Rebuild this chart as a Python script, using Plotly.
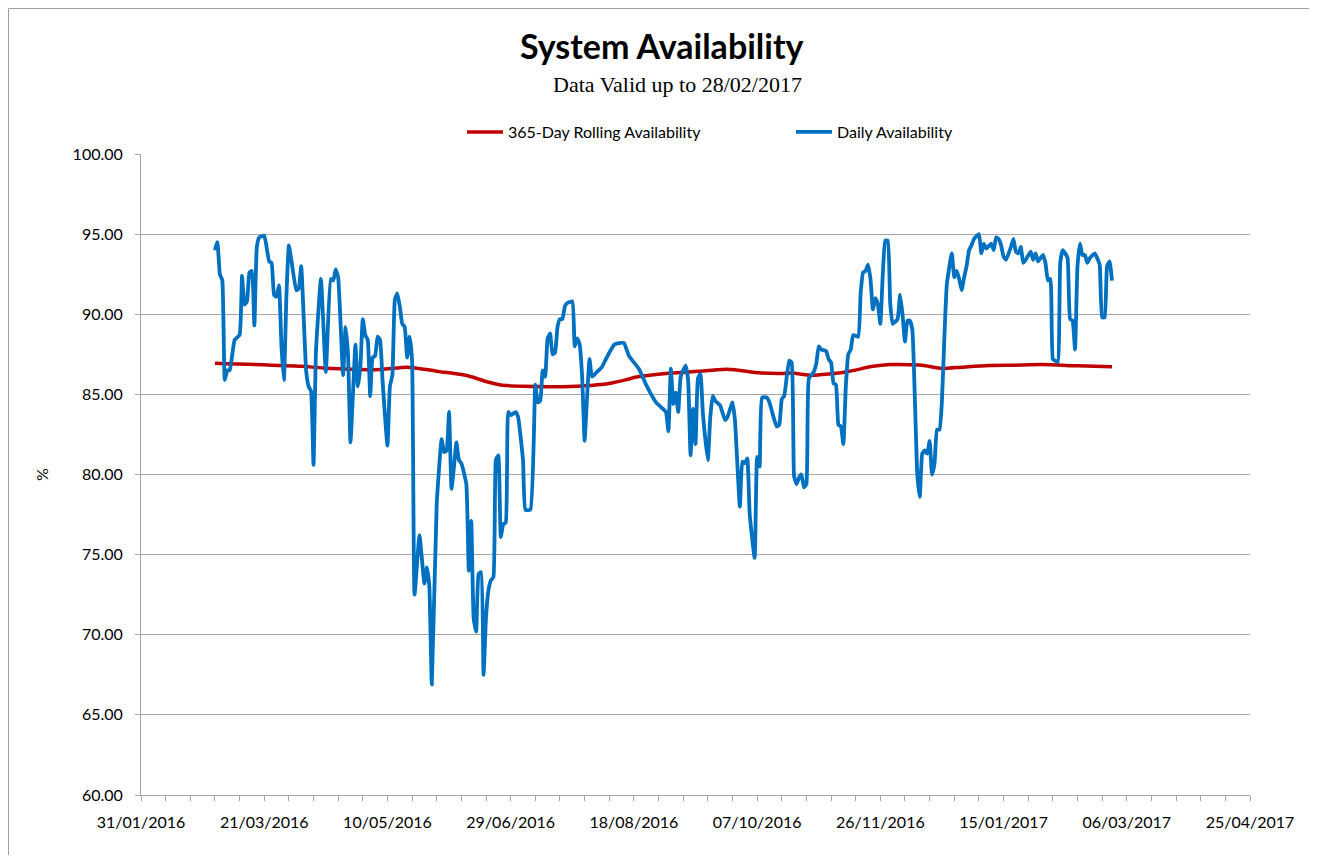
import pandas as pd
import plotly.graph_objects as go

START = "2016-03-01"

# Daily availability: day offset from START and value (%)
daily_day = [0, 1, 2, 3, 4, 5, 6, 8, 10, 11, 12, 13, 14, 15, 16, 17, 18, 20, 22, 23,
             24, 25, 26, 27, 28, 29, 30, 31, 33, 34, 35, 37, 38, 39, 40, 41, 43, 45, 47, 48,
             49, 50, 52, 53, 54, 55, 56, 57, 58, 59, 60, 61, 62, 63, 64, 65, 66, 67, 68, 70,
             71, 72, 73, 74, 75, 76, 77, 78, 79, 80, 81, 83, 85, 86, 87, 88, 90, 92, 93, 94,
             95, 96, 97, 98, 99, 100, 102, 103, 104, 105, 106, 107, 108, 109, 110, 111, 112, 113, 114, 115,
             116, 117, 118, 119, 120, 122, 123, 125, 126, 128, 130, 131, 132, 133, 134, 135, 136, 137, 138, 139,
             140, 141, 142, 143, 145, 146, 147, 148, 149, 150, 151, 152, 153, 155, 157, 158, 160, 162, 164, 166,
             168, 172, 175, 177, 179, 181, 183, 184, 185, 186, 187, 188, 189, 191, 192, 193, 194, 195, 196, 197,
             198, 200, 201, 202, 203, 205, 207, 208, 210, 211, 213, 214, 215, 216, 217, 219, 220, 221, 222, 224,
             225, 227, 228, 229, 230, 231, 233, 234, 235, 236, 237, 238, 239, 240, 241, 243, 244, 245, 246, 248,
             249, 250, 251, 252, 253, 254, 255, 256, 257, 258, 259, 261, 262, 263, 264, 265, 266, 267, 268, 269,
             270, 271, 272, 273, 274, 275, 277, 278, 279, 280, 281, 282, 283, 284, 285, 286, 287, 288, 289, 290,
             291, 292, 293, 294, 295, 296, 297, 299, 300, 301, 302, 303, 304, 305, 306, 307, 308, 310, 311, 312,
             313, 315, 316, 317, 318, 319, 320, 321, 323, 324, 325, 326, 327, 328, 329, 331, 332, 333, 334, 336,
             337, 338, 339, 340, 341, 342, 343, 344, 345, 346, 347, 348, 349, 350, 351, 352, 353, 354, 355, 357,
             358, 359, 360, 361, 362, 363, 364]
daily_value = [94.0, 94.5, 92.5, 92.1, 85.9, 86.5, 86.5, 88.4, 88.7, 92.4, 90.6, 90.8, 92.6, 92.7, 89.3, 94.2, 94.8, 94.9, 93.3, 93.2,
               91.2, 91.1, 91.8, 88.0, 85.9, 91.1, 94.3, 93.4, 91.5, 91.6, 93.0, 86.5, 85.5, 85.2, 80.6, 87.7, 92.2, 86.4, 92.2, 92.1,
               92.8, 92.3, 86.2, 89.2, 87.5, 82.0, 85.0, 88.1, 85.5, 86.7, 89.7, 88.7, 88.4, 84.9, 87.3, 87.4, 88.6, 88.4, 85.9, 81.8,
               85.5, 86.2, 90.9, 91.3, 90.5, 89.4, 89.2, 87.3, 88.6, 87.1, 72.5, 76.2, 73.2, 74.2, 73.0, 66.9, 78.2, 82.2, 81.4, 81.5,
               83.9, 79.1, 80.5, 82.0, 80.9, 80.7, 79.4, 74.0, 77.1, 71.0, 70.2, 73.8, 73.9, 67.5, 71.1, 72.8, 73.4, 73.6, 80.9, 81.2,
               76.1, 76.9, 77.0, 83.9, 83.7, 83.9, 83.6, 80.9, 77.8, 77.8, 85.6, 84.5, 84.6, 86.5, 86.1, 88.5, 88.8, 87.5, 87.6, 89.2,
               89.7, 89.7, 90.5, 90.7, 90.8, 88.0, 88.5, 88.1, 86.1, 82.1, 84.8, 87.2, 86.1, 86.4, 86.7, 87.0, 87.6, 88.1, 88.2, 88.2,
               87.4, 86.6, 85.6, 85.0, 84.5, 84.2, 83.9, 82.7, 86.6, 84.4, 85.1, 83.9, 86.1, 86.8, 85.9, 81.2, 84.1, 81.9, 86.0, 86.3,
               83.8, 80.9, 83.6, 84.9, 84.6, 84.3, 83.4, 83.6, 84.5, 83.4, 78.0, 80.8, 80.7, 81.0, 77.5, 74.8, 81.1, 80.5, 84.8, 84.8,
               84.5, 83.4, 83.0, 83.1, 84.7, 84.9, 87.1, 87.0, 79.9, 79.4, 79.8, 80.0, 79.2, 79.4, 86.0, 86.4, 86.9, 88.0, 87.8, 87.7,
               87.2, 87.0, 85.7, 85.6, 83.1, 83.0, 81.9, 85.5, 87.5, 87.8, 88.7, 88.6, 91.3, 92.6, 92.7, 93.1, 92.2, 90.3, 91.0, 90.6,
               89.4, 92.5, 94.6, 94.6, 90.7, 89.4, 89.7, 91.2, 90.0, 88.3, 89.6, 89.6, 89.0, 84.8, 80.0, 78.6, 81.3, 81.5, 81.3, 82.1,
               80.0, 80.7, 82.8, 82.8, 84.6, 88.6, 91.9, 93.8, 92.3, 92.7, 92.2, 91.5, 92.3, 93.0, 94.0, 94.3, 94.7, 95.0, 93.8, 94.4,
               94.1, 94.4, 94.0, 94.8, 94.7, 94.3, 93.6, 93.4, 94.2, 94.7, 93.9, 93.8, 94.2, 93.2, 93.4, 93.9, 93.4, 93.8, 93.3, 93.7,
               93.2, 92.1, 92.2, 87.2, 87.1, 87.0, 93.2, 94.0, 93.8, 93.5, 89.7, 89.6, 87.8, 93.0, 94.4, 93.7, 93.7, 93.2, 93.5, 93.8,
               93.5, 93.1, 89.8, 89.8, 93.0, 93.3, 92.1]

# 365-day rolling availability
rolling_day = [0, 35, 44, 67, 78, 88, 91, 95, 103, 110, 116, 125, 138, 149, 160, 167, 171, 183, 196,
               206, 211, 219, 230, 234, 242, 256, 267, 274, 278, 287, 295, 303, 314, 324, 336, 350, 364]
rolling_value = [86.95, 86.75, 86.65, 86.55, 86.7, 86.5, 86.42, 86.35, 86.15, 85.8, 85.58, 85.5, 85.47, 85.52,
                 85.68, 85.92, 86.08, 86.3, 86.44, 86.56, 86.54, 86.36, 86.3, 86.33, 86.2, 86.4, 86.75, 86.86,
                 86.86, 86.82, 86.62, 86.7, 86.8, 86.82, 86.86, 86.78, 86.72]

y_ticks = [60, 65, 70, 75, 80, 85, 90, 95, 100]

start = pd.Timestamp(START)
daily_dates = start + pd.to_timedelta(daily_day, unit="D")
rolling_dates = start + pd.to_timedelta(rolling_day, unit="D")

FONT = "Lato"
GRAY = "#A6A6A6"

fig = go.Figure()
fig.add_trace(go.Scatter(
    x=rolling_dates, y=rolling_value, mode="lines",
    name="365-Day Rolling Availability",
    line=dict(color="#C00000", width=3.5, shape="spline", smoothing=0.6),
))
fig.add_trace(go.Scatter(
    x=daily_dates, y=daily_value, mode="lines",
    name="Daily Availability",
    line=dict(color="#0070C0", width=3.8, shape="spline", smoothing=0.4),
))

# The page body has an 8px margin, so the figure starts at (8, 8) in the window.
OFF = 8
PL, PR, PT, PB = 141, 1250, 154, 795  # plot area in window pixels
W, H = 1317 - 2 * OFF, 863 - 2 * OFF
L, T = PL - OFF, PT - OFF
R, B = W + OFF - PR, H + OFF - PB
pw, ph = PR - PL, PB - PT


def px(x):
    return (x - PL) / pw


def py(y):
    return (PB - y) / ph


fig.update_layout(
    width=W, height=H, autosize=False,
    margin=dict(l=L, r=R, t=T, b=B),
    paper_bgcolor="white", plot_bgcolor="white",
    font=dict(family=FONT, size=16, color="#262626"),
    showlegend=True,
    legend=dict(orientation="h", x=px(462), xanchor="left", y=py(132), yanchor="middle",
                font=dict(family=FONT, size=16, color="#000000"),
                entrywidth=278, entrywidthmode="pixels", itemwidth=36,
                bgcolor="rgba(0,0,0,0)", traceorder="normal"),
    xaxis=dict(
        type="date",
        range=["2016-01-31", "2017-04-25"],
        tickmode="linear", tick0="2016-01-31", dtick=50 * 86400000,
        tickformat="%d/%m/%Y",
        ticks="outside", ticklen=5, tickcolor=GRAY,
        minor=dict(dtick=10 * 86400000, tick0="2016-01-31", ticks="outside", ticklen=5,
                   tickcolor=GRAY, showgrid=False),
        showline=True, linecolor=GRAY, linewidth=1,
        showgrid=False, zeroline=False,
        tickfont=dict(family=FONT, size=16, color="#000000"),
        ticklabelstandoff=8,
    ),
    yaxis=dict(
        range=[60, 100],
        tickmode="array", tickvals=y_ticks, ticktext=[f"{v:.2f}" for v in y_ticks],
        ticks="outside", ticklen=5, tickcolor=GRAY,
        showline=True, linecolor=GRAY, linewidth=1,
        showgrid=True, gridcolor=GRAY, gridwidth=1,
        zeroline=False,
        tickfont=dict(family=FONT, size=16, color="#000000"),
        ticklabelstandoff=9,
        title=dict(text="%", font=dict(family=FONT, size=16, color="#000000"), standoff=20),
    ),
    annotations=[
        dict(text="<b>System Availability</b>", xref="paper", yref="paper",
             x=px(662), y=py(45), xanchor="center", yanchor="middle", showarrow=False,
             font=dict(family=FONT, size=34, color="#000000")),
        dict(text="Data Valid up to 28/02/2017", xref="paper", yref="paper",
             x=px(677), y=py(85), xanchor="center", yanchor="middle", showarrow=False,
             font=dict(family="Liberation Serif", size=22, color="#000000")),
    ],
    shapes=[
        # chart-area border (top and left edges visible in the frame)
        dict(type="line", xref="paper", yref="paper",
             x0=px(8.5), x1=px(1320), y0=py(8.5), y1=py(8.5),
             line=dict(color="#A0A0A0", width=1), layer="below"),
        dict(type="line", xref="paper", yref="paper",
             x0=px(8.5), x1=px(8.5), y0=py(8.5), y1=py(870),
             line=dict(color="#A0A0A0", width=1), layer="below"),
    ],
)

fig.write_html("out.html")
